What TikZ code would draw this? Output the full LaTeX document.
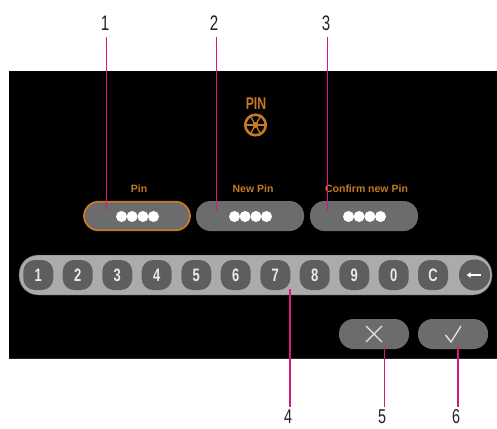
\documentclass[tikz,border=0pt]{standalone}
\usepackage{fontspec}
\usetikzlibrary{arrows.meta}
\setmainfont[FakeStretch=0.72]{Liberation Sans}
\newfontfamily\uifont{Liberation Sans}
\definecolor{pinkline}{HTML}{D8177F}
\definecolor{uiorange}{HTML}{C47A22}
\definecolor{pillgray}{HTML}{6C6C6C}
\definecolor{padgray}{HTML}{ABABAB}
\definecolor{keygray}{HTML}{5E5E5E}
\definecolor{labelgray}{HTML}{222222}
\tikzset{
  callout/.style={inner sep=0pt,font=\fontsize{21}{21}\selectfont,text=labelgray},
  lowcallout/.style={callout,font=\fontsize{20}{20}\selectfont},
  leader/.style={draw=pinkline,line width=1.2pt},
  pill/.style={fill=pillgray,rounded corners=14.5pt,minimum width=108pt,minimum height=30pt,inner sep=0pt,anchor=center},
  action/.style={fill=pillgray,rounded corners=14.5pt,minimum width=70pt,minimum height=30pt,inner sep=0pt},
  keypad/.style={fill=padgray,draw=black!60!padgray,line width=0.4pt,rounded corners=19pt,minimum width=473pt,minimum height=40pt,inner sep=0pt},
  numkey/.style={fill=keygray,rounded corners=11.5pt,minimum size=30pt,inner sep=0pt,text=white!92!black,font=\fontsize{18}{18}\selectfont\bfseries},
  backkey/.style={numkey,rounded corners=15pt,minimum size=31pt},
  dot/.style={circle,fill=white,minimum size=11pt,inner sep=0pt},
  smallhead/.style={inner sep=0pt,text=uiorange,font=\uifont\fontsize{10.5}{10.5}\selectfont\bfseries},
  iconline/.style={draw=uiorange,line width=1.3pt},
  tick/.style={draw=white!90!black,line width=1.3pt}
}
\begin{document}
\begin{tikzpicture}[x=1pt,y=-1pt]
\useasboundingbox (0,0) rectangle (497,428);
\fill[black] (9,71) rectangle (497,358);
\draw[labelgray,line width=0.5pt] (9,358) -- (497,358);
% title and icon
\node[inner sep=0pt,text=uiorange,font=\fontsize{17}{17}\selectfont\bfseries] (title) at (256,103.5) {PIN};
\node[circle,draw=uiorange,line width=2.6pt,minimum size=20.5pt,inner sep=0pt] (wheel) at (255.5,125) {};
\foreach \a in {0,60,...,300}{\draw[iconline] (wheel.center) -- (wheel.\a);}
\node[circle,fill=uiorange,minimum size=6pt,inner sep=0pt] (hub) at (wheel.center) {};
% pills
\node[smallhead] (h1) at (139,189) {Pin};
\node[smallhead] (h2) at (253,189) {New Pin};
\node[smallhead] (h3) at (366.5,189) {Confirm new Pin};
\node[pill,draw=uiorange,line width=1.8pt,minimum width=106pt,minimum height=28.5pt] (p1) at (137,216) {};
\node[pill] (p2) at (250,216) {};
\node[pill] (p3) at (364,216) {};
\foreach \p/\x in {p1/137.5,p2/250.5,p3/364.5}{
  \foreach \d in {-16,-5.4,5.4,16}{\node[dot] at (\x+\d,216.5) {};}
}
% keypad
\node[keypad] (pad) at (255.5,275) {};
\node[numkey] (k1) at (38.3,275) {1};
\node[numkey] (k2) at (77.7,275) {2};
\node[numkey] (k3) at (117.3,275) {3};
\node[numkey] (k4) at (156.7,275) {4};
\node[numkey] (k5) at (196.3,275) {5};
\node[numkey] (k6) at (235.7,275) {6};
\node[numkey] (k7) at (275.3,275) {7};
\node[numkey] (k8) at (314.7,275) {8};
\node[numkey] (k9) at (354.3,275) {9};
\node[numkey] (k0) at (393.7,275) {0};
\node[numkey] (kc) at (433,275) {C};
\node[backkey] (kb) at (474.5,275) {};
\draw[white,line width=1.8pt,-{Latex[length=4pt,width=6pt]}] (481,275) -- (466.5,275);
% actions
\node[action] (cancel) at (374,334) {};
\node[action] (ok) at (453,334) {};
\draw[tick] (366,326) -- (382,342) (382,326) -- (366,342);
\draw[tick] (445.5,335) -- (451,342) -- (461,326);
% callouts
\node[callout] (l1) at (105,23) {1};
\node[callout] (l2) at (214,23) {2};
\node[callout] (l3) at (326,23) {3};
\node[lowcallout] (l4) at (288,417) {4};
\node[lowcallout] (l5) at (382,417) {5};
\node[lowcallout] (l6) at (456,417) {6};
\coordinate (c1) at (106.5,211);
\coordinate (c2) at (216.5,211);
\coordinate (c3) at (327.5,211);
\coordinate (c4) at (290,289);
\coordinate (c5) at (384.5,347);
\coordinate (c6) at (458,347);
\coordinate (s1) at (106.5,37);
\coordinate (s2) at (216.5,37);
\coordinate (s3) at (327.5,37);
\coordinate (s4) at (290,407);
\coordinate (s5) at (384.5,407);
\coordinate (s6) at (458,407);
\draw[leader] (s1) -- (c1);
\draw[leader] (s2) -- (c2);
\draw[leader] (s3) -- (c3);
\draw[leader] (s4) -- (c4);
\draw[leader] (s5) -- (c5);
\draw[leader] (s6) -- (c6);
\end{tikzpicture}
\end{document}
